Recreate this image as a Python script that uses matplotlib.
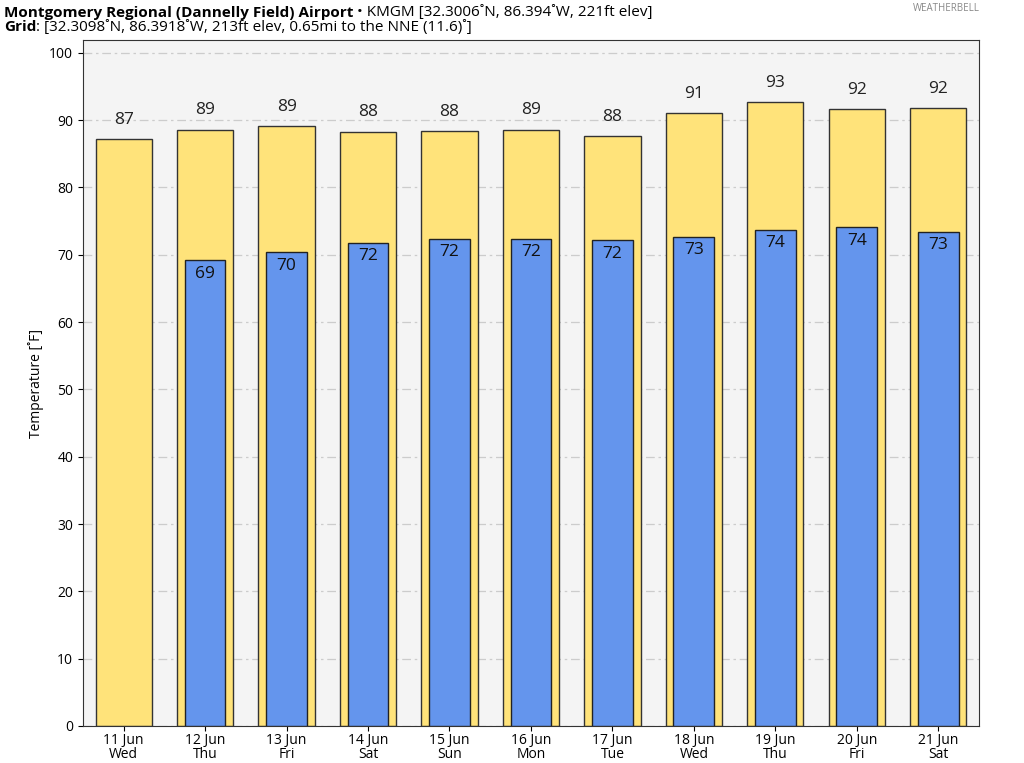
import matplotlib
matplotlib.use("Agg")
import matplotlib.pyplot as plt

plt.rcParams['font.family'] = ['Open Sans', 'DejaVu Sans']

days = ["11 Jun\nWed", "12 Jun\nThu", "13 Jun\nFri", "14 Jun\nSat", "15 Jun\nSun",
        "16 Jun\nMon", "17 Jun\nTue", "18 Jun\nWed", "19 Jun\nThu", "20 Jun\nFri",
        "21 Jun\nSat"]
highs = [87.2, 88.6, 89.1, 88.3, 88.4, 88.6, 87.7, 91.1, 92.7, 91.7, 91.8]
# no low for the first day
lows = [None, 69.2, 70.4, 71.8, 72.4, 72.4, 72.2, 72.7, 73.7, 74.1, 73.4]

fig = plt.figure(figsize=(10.24, 7.63), dpi=100)
ax = fig.add_axes([0.081, 0.0485, 0.875, 0.899])
ax.set_facecolor("#f4f4f4")

x = list(range(len(days)))
ax.bar(x, highs, width=0.69, color="#ffe37a", edgecolor="#333333", linewidth=1.0, zorder=2)
for i, h in enumerate(highs):
    ax.annotate(f"{round(h)}", (i, h), xytext=(0, 8), textcoords="offset points",
                ha="center", va="bottom", fontsize=12.5, color="#222222")

lx = [i for i, v in enumerate(lows) if v is not None]
lv = [v for v in lows if v is not None]
ax.bar(lx, lv, width=0.5, color="#6495ed", edgecolor="#222222", linewidth=1.0, zorder=3)
for i, v in zip(lx, lv):
    ax.annotate(f"{round(v)}", (i, v), xytext=(0, -4), textcoords="offset points",
                ha="center", va="top", fontsize=12.5, color="#111111", zorder=4)

ax.set_xlim(-0.5, 10.5)
ax.set_ylim(0, 101.9)
ax.set_yticks(range(0, 101, 10))
ax.set_xticks(x)
ax.set_xticklabels(days, fontsize=10, linespacing=0.95)
ax.tick_params(axis="y", labelsize=10)
ax.tick_params(axis="x", pad=1.5)
ax.grid(axis="y", color="#cccccc", linestyle=(0, (7, 3, 2, 3)), linewidth=0.9, zorder=1)
ax.set_axisbelow(True)
ax.set_ylabel("Temperature [˚F]", fontsize=10)
for s in ax.spines.values():
    s.set_color("#333333")

# title lines: bold part then regular part right after it
r = fig.canvas.get_renderer()
t1 = fig.text(0.004, 0.983, "Montgomery Regional (Dannelly Field) Airport", fontsize=11,
              fontweight="bold", va="center")
t2 = fig.text(0.004, 0.964, "Grid", fontsize=11, fontweight="bold", va="center")
for t, rest in [(t1, " • KMGM [32.3006˚N, 86.394˚W, 221ft elev]"),
                (t2, ": [32.3098˚N, 86.3918˚W, 213ft elev, 0.65mi to the NNE (11.6)˚]")]:
    bb = t.get_window_extent(renderer=r)
    fig.text(bb.x1 / fig.bbox.width, t.get_position()[1], rest, fontsize=11, va="center")
fig.text(0.924, 0.989, "WEATHERBELL", fontsize=7, color="#888888", ha="center", va="center")

fig.savefig("out.png", dpi=100)
